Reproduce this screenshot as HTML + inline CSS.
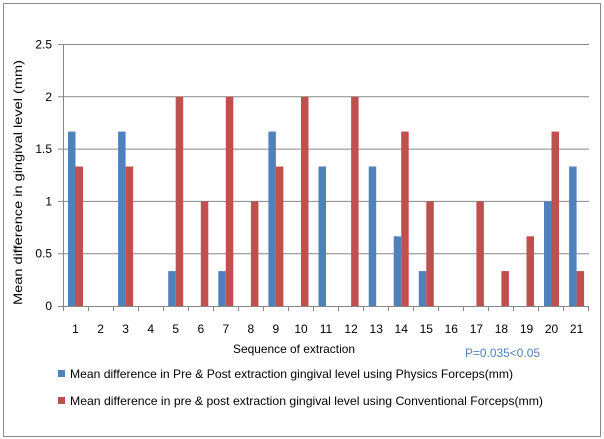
<!DOCTYPE html>
<html><head><style>body{margin:0;background:#fff}svg{display:block;font-family:"Liberation Sans",sans-serif}</style></head><body>
<svg width="604" height="439" viewBox="0 0 604 439" xmlns="http://www.w3.org/2000/svg">
<rect x="3.5" y="3.5" width="597" height="433" fill="#fff" stroke="#888" stroke-width="1"/>
<g stroke="#868686" stroke-width="1">
<line x1="58" y1="44.5" x2="589" y2="44.5"/>
<line x1="58" y1="96.8" x2="589" y2="96.8"/>
<line x1="58" y1="149.1" x2="589" y2="149.1"/>
<line x1="58" y1="201.4" x2="589" y2="201.4"/>
<line x1="58" y1="253.7" x2="589" y2="253.7"/>
<line x1="63.5" y1="44" x2="63.5" y2="306"/>
</g>
<g fill="#4F81BD">
<rect x="68" y="131.6" width="7.5" height="174.4"/>
<rect x="118.1" y="131.6" width="7.5" height="174.4"/>
<rect x="168.2" y="271.1" width="7.5" height="34.9"/>
<rect x="218.3" y="271.1" width="7.5" height="34.9"/>
<rect x="268.4" y="131.6" width="7.5" height="174.4"/>
<rect x="318.5" y="166.5" width="7.5" height="139.5"/>
<rect x="368.7" y="166.5" width="7.5" height="139.5"/>
<rect x="393.7" y="236.3" width="7.5" height="69.7"/>
<rect x="418.8" y="271.1" width="7.5" height="34.9"/>
<rect x="544" y="201.4" width="7.5" height="104.6"/>
<rect x="569.1" y="166.5" width="7.5" height="139.5"/>
</g>
<g fill="#C0504D">
<rect x="75.5" y="166.5" width="7.5" height="139.5"/>
<rect x="125.6" y="166.5" width="7.5" height="139.5"/>
<rect x="175.7" y="96.8" width="7.5" height="209.2"/>
<rect x="200.8" y="201.4" width="7.5" height="104.6"/>
<rect x="225.8" y="96.8" width="7.5" height="209.2"/>
<rect x="250.9" y="201.4" width="7.5" height="104.6"/>
<rect x="275.9" y="166.5" width="7.5" height="139.5"/>
<rect x="301" y="96.8" width="7.5" height="209.2"/>
<rect x="351.1" y="96.8" width="7.5" height="209.2"/>
<rect x="401.2" y="131.6" width="7.5" height="174.4"/>
<rect x="426.3" y="201.4" width="7.5" height="104.6"/>
<rect x="476.4" y="201.4" width="7.5" height="104.6"/>
<rect x="501.4" y="271.1" width="7.5" height="34.9"/>
<rect x="526.5" y="236.3" width="7.5" height="69.7"/>
<rect x="551.5" y="131.6" width="7.5" height="174.4"/>
<rect x="576.6" y="271.1" width="7.5" height="34.9"/>
</g>
<g stroke="#868686" stroke-width="1">
<line x1="58" y1="306.5" x2="589" y2="306.5"/>
<path d="M63.5 306v5M88.5 306v5M113.5 306v5M138.5 306v5M163.5 306v5M188.5 306v5M213.5 306v5M238.5 306v5M263.5 306v5M288.5 306v5M313.5 306v5M338.5 306v5M363.5 306v5M388.5 306v5M413.5 306v5M438.5 306v5M463.5 306v5M488.5 306v5M513.5 306v5M538.5 306v5M563.5 306v5M588.5 306v5"/>
</g>
<g font-size="12" fill="#000" text-anchor="end">
<text x="52" y="48.5">2.5</text><text x="52" y="100.8">2</text><text x="52" y="153.1">1.5</text><text x="52" y="205.4">1</text><text x="52" y="257.7">0.5</text><text x="52" y="310">0</text>
</g>
<g font-size="12" fill="#000" text-anchor="middle">
<text x="75.5" y="333">1</text><text x="100.6" y="333">2</text><text x="125.6" y="333">3</text><text x="150.7" y="333">4</text><text x="175.7" y="333">5</text><text x="200.8" y="333">6</text><text x="225.8" y="333">7</text><text x="250.9" y="333">8</text><text x="275.9" y="333">9</text><text x="301" y="333">10</text><text x="326" y="333">11</text><text x="351.1" y="333">12</text><text x="376.2" y="333">13</text><text x="401.2" y="333">14</text><text x="426.3" y="333">15</text><text x="451.3" y="333">16</text><text x="476.4" y="333">17</text><text x="501.4" y="333">18</text><text x="526.5" y="333">19</text><text x="551.5" y="333">20</text><text x="576.6" y="333">21</text>
</g>
<text x="233" y="353" font-size="12" textLength="122" lengthAdjust="spacingAndGlyphs">Sequence of extraction</text>
<text transform="translate(22,305) rotate(-90)" font-size="12" textLength="245" lengthAdjust="spacingAndGlyphs">Mean difference in gingival level (mm)</text>
<text x="465" y="357" font-size="12" fill="#4F81BD" textLength="75" lengthAdjust="spacingAndGlyphs">P=0.035&lt;0.05</text>
<rect x="58" y="370" width="7" height="7" fill="#4F81BD"/>
<text x="70" y="378" font-size="12" textLength="443" lengthAdjust="spacingAndGlyphs">Mean difference in Pre &amp; Post extraction  gingival level using Physics Forceps(mm)</text>
<rect x="58" y="397" width="7" height="7" fill="#C0504D"/>
<text x="70" y="405" font-size="12" textLength="473" lengthAdjust="spacingAndGlyphs">Mean difference in pre &amp; post extraction gingival  level using Conventional Forceps(mm)</text>
</svg>
</body></html>
